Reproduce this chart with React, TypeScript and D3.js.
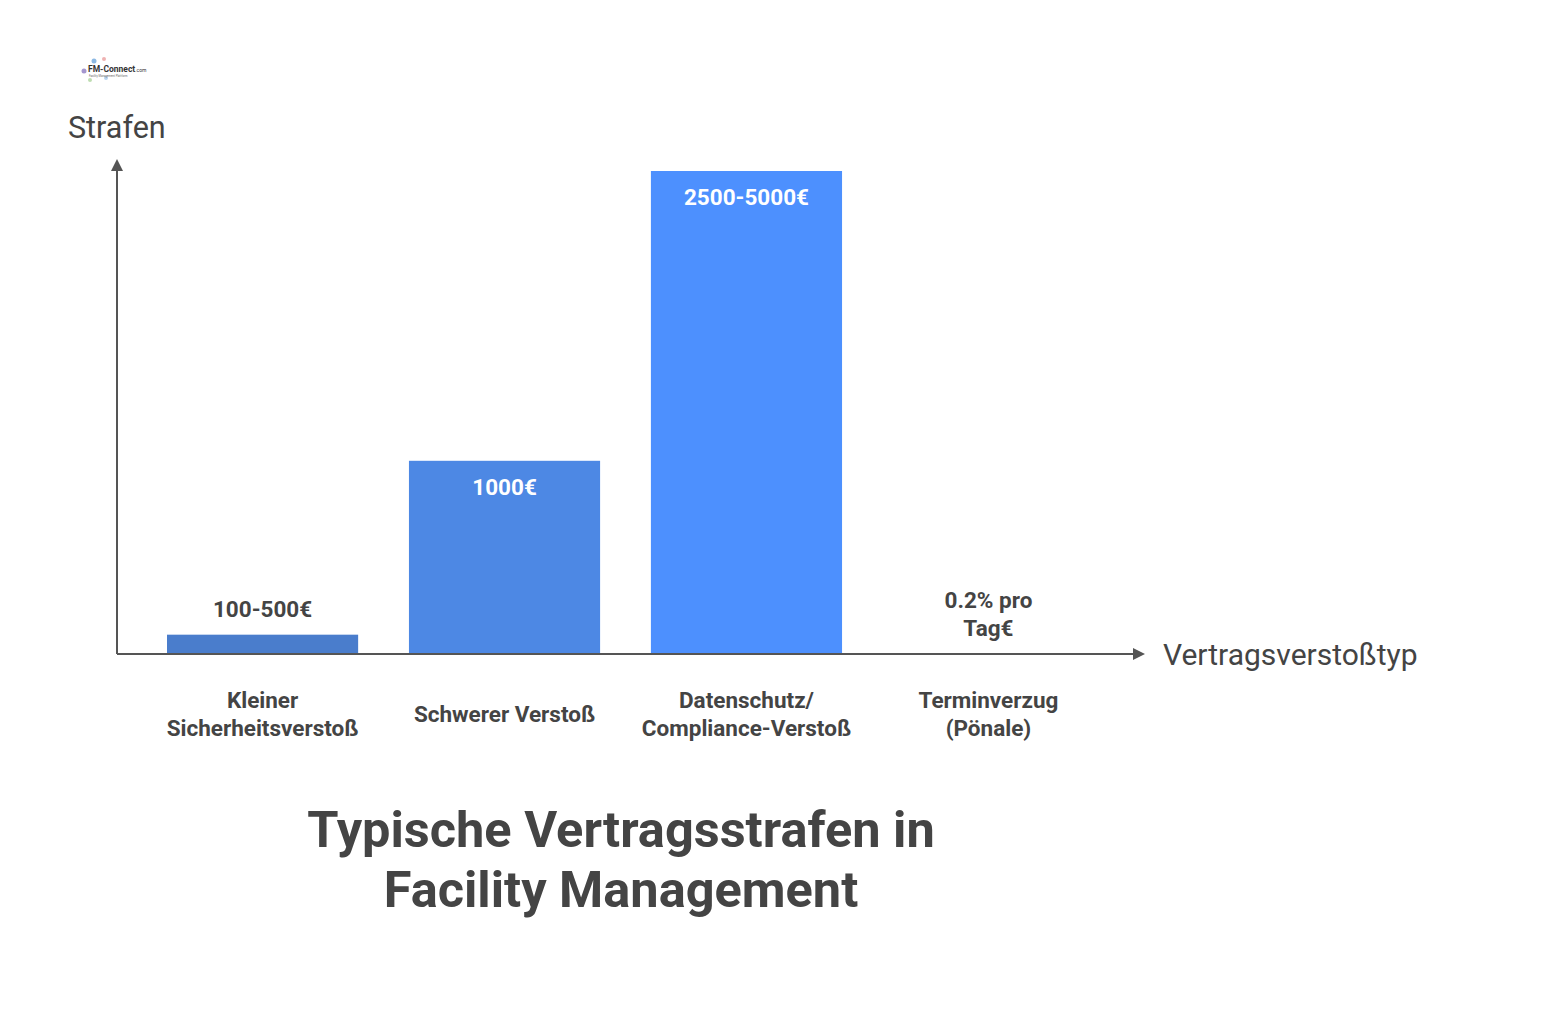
import React from "react";
import * as d3 from "d3";

const categories = ["Kleiner Sicherheitsverstoß", "Schwerer Verstoß", "Datenschutz/Compliance-Verstoß", "Terminverzug (Pönale)"];
const categoryLines = [["Kleiner", "Sicherheitsverstoß"], ["Schwerer Verstoß"], ["Datenschutz/", "Compliance-Verstoß"], ["Terminverzug", "(Pönale)"]];
const values = [100, 1000, 2500, 0];
const valueLabels = [["100-500€"], ["1000€"], ["2500-5000€"], ["0.2% pro", "Tag€"]];
const barColors = ["#4a7dcc", "#4d88e4", "#4d90fe", "#4d90fe"];
const titleLines = ["Typische Vertragsstrafen in", "Facility Management"];
const yAxisLabel = "Strafen";
const xAxisLabel = "Vertragsverstoßtyp";

export default function App() {
  const W = 1558, H = 1017;
  const x0 = 117, baseY = 654;
  const x = d3.scaleBand<string>().domain(categories).range([167, 1084]).paddingInner(0.21).paddingOuter(0);
  const y = d3.scaleLinear().domain([0, 2500]).range([baseY, 171]);
  const font = "Roboto, 'Open Sans', sans-serif";
  const textCol = "#444444";
  return (
    <svg width={W} height={H} style={{ position: "absolute", left: 0, top: 0, background: "#fff" }} fontFamily={font}>
      {/* logo */}
      <g transform="translate(80,58)">
        <circle cx={14} cy={3} r={2.5} fill="#6fa8dc" opacity={0.8} />
        <circle cx={4} cy={13} r={2.5} fill="#8e7cc3" opacity={0.8} />
        <circle cx={24} cy={1} r={2} fill="#e06666" opacity={0.5} />
        <circle cx={10} cy={22} r={2} fill="#93c47d" opacity={0.6} />
        <circle cx={26} cy={20} r={2} fill="#6fa8dc" opacity={0.5} />
        <text x={8} y={14} fontSize={8.5} fontWeight={700} fill="#333">FM-Connect<tspan fontSize={5} fontWeight={400}>.com</tspan></text>
        <text x={9} y={19} fontSize={2.8} fill="#666">Facility Management Plattform</text>
      </g>
      {/* axes */}
      <line x1={x0} y1={baseY} x2={x0} y2={170} stroke="#555" strokeWidth={2} />
      <path d={`M${x0 - 6},${171} L${x0},${159} L${x0 + 6},${171} Z`} fill="#555" />
      <line x1={x0} y1={baseY} x2={1135} y2={baseY} stroke="#555" strokeWidth={2} />
      <path d={`M${1133},${baseY - 6} L${1145},${baseY} L${1133},${baseY + 6} Z`} fill="#555" />
      <text x={68} y={138} fontSize={30.5} fill={textCol}>{yAxisLabel}</text>
      <text x={1163} y={665} fontSize={30} fill={textCol}>{xAxisLabel}</text>
      {/* bars */}
      {categories.map((c, i) => {
        const bx = x(c)!;
        const bw = x.bandwidth();
        const top = y(values[i]);
        const h = baseY - top;
        const cx = bx + bw / 2;
        const inside = h > 100;
        const lines = valueLabels[i];
        return (
          <g key={c}>
            {h > 0 && <rect x={bx} y={top} width={bw} height={h - 1} fill={barColors[i]} />}
            {lines.map((t, j) => (
              <text key={j} x={cx} y={inside ? top + 34 : top - 18 - (lines.length - 1 - j) * 28}
                textAnchor="middle" fontSize={22.5} fontWeight={700} fill={inside ? "#fff" : textCol}>{t}</text>
            ))}
            {categoryLines[i].map((t, j) => (
              <text key={j} x={cx} y={categoryLines[i].length === 1 ? 722 : 708 + j * 28} textAnchor="middle" fontSize={22.5} fontWeight={700} fill={textCol}>{t}</text>
            ))}
          </g>
        );
      })}
      {titleLines.map((t, j) => (
        <text key={j} x={621} y={847 + j * 60} textAnchor="middle" fontSize={50.5} fontWeight={700} fill={textCol}>{t}</text>
      ))}
    </svg>
  );
}
